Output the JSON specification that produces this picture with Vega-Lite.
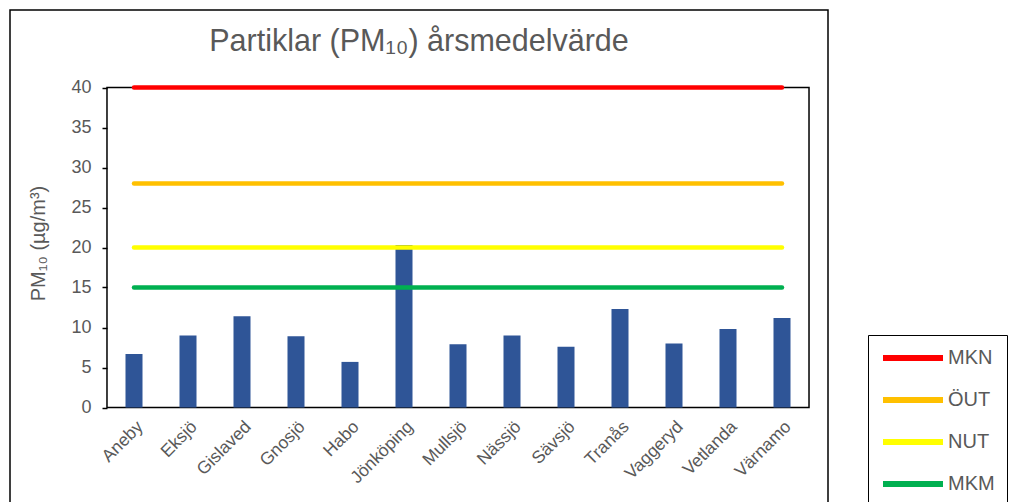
{
  "$schema": "https://vega.github.io/schema/vega-lite/v6.json",
  "width": 818,
  "height": 517.5,
  "autosize": {"type": "none"},
  "padding": {"left": 10, "top": 10, "right": 182, "bottom": 0},
  "background": "white",
  "title": {
    "text": "Partiklar (PM₁₀) årsmedelvärde",
    "font": "Liberation Sans",
    "fontSize": 30.5,
    "fontWeight": "normal",
    "color": "#595959",
    "anchor": "middle",
    "frame": "group",
    "baseline": "middle",
    "offset": -62
  },
  "config": {
    "view": {"stroke": "black", "strokeWidth": 1.5},
    "font": "Liberation Sans",
    "legend": {
      "orient": "none",
      "legendX": 858,
      "legendY": 325,
      "strokeColor": "black",
      "fillColor": "white",
      "padding": 12,
      "clipHeight": 22,
      "symbolType": "stroke",
      "symbolStrokeWidth": 6,
      "symbolSize": 3600,
      "labelFontSize": 20,
      "labelFont": "Liberation Sans",
      "labelColor": "#595959",
      "labelOffset": 2,
      "rowPadding": 20
    }
  },
  "datasets": {
    "pm": [
      {"ort": "Aneby", "pm10": 6.7},
      {"ort": "Eksjö", "pm10": 9.0},
      {"ort": "Gislaved", "pm10": 11.4},
      {"ort": "Gnosjö", "pm10": 8.9},
      {"ort": "Habo", "pm10": 5.7},
      {"ort": "Jönköping", "pm10": 20.3},
      {"ort": "Mullsjö", "pm10": 7.9},
      {"ort": "Nässjö", "pm10": 9.0},
      {"ort": "Sävsjö", "pm10": 7.6},
      {"ort": "Tranås", "pm10": 12.3},
      {"ort": "Vaggeryd", "pm10": 8.0},
      {"ort": "Vetlanda", "pm10": 9.8},
      {"ort": "Värnamo", "pm10": 11.2}
    ],
    "limits": [
      {"gräns": "MKN", "värde": 40, "start": "Aneby", "slut": "Värnamo"},
      {"gräns": "ÖUT", "värde": 28, "start": "Aneby", "slut": "Värnamo"},
      {"gräns": "NUT", "värde": 20, "start": "Aneby", "slut": "Värnamo"},
      {"gräns": "MKM", "värde": 15, "start": "Aneby", "slut": "Värnamo"}
    ],
    "frame": [
      {"start": "Aneby", "slut": "Värnamo", "lo": 0, "hi": 40}
    ]
  },
  "layer": [
    {
      "data": {"name": "frame"},
      "mark": {"type": "rect", "fillOpacity": 0, "stroke": "black", "strokeWidth": 1.5},
      "encoding": {
        "x": {
          "field": "start", "type": "nominal", "bandPosition": -1.088,
          "scale": {"domain": ["Aneby","Eksjö","Gislaved","Gnosjö","Habo","Jönköping","Mullsjö","Nässjö","Sävsjö","Tranås","Vaggeryd","Vetlanda","Värnamo"], "range": [97, 799], "paddingInner": 0.685, "paddingOuter": 0.3425},
          "axis": {"orient": "bottom", "offset": -120, "domain": false, "ticks": false, "labelAngle": -45, "labelFontSize": 17.5, "labelColor": "#595959", "labelPadding": 10, "title": null}
        },
        "x2": {"field": "slut", "bandPosition": 2.088},
        "y": {
          "field": "lo", "type": "quantitative",
          "scale": {"domain": [-15, 49.6875], "nice": false, "zero": false},
          "axis": {"orient": "left", "offset": -97, "values": [0,5,10,15,20,25,30,35,40], "domain": false, "grid": false, "tickColor": "black", "tickSize": 5, "tickWidth": 1.5, "labelFontSize": 18, "labelColor": "#595959", "labelPadding": 11, "title": "PM₁₀ (µg/m³)", "titleFontSize": 20, "titleFontWeight": "normal", "titleColor": "#595959", "titlePadding": 22, "titleY": 233}
        },
        "y2": {"field": "hi"}
      }
    },
    {
      "data": {"name": "pm"},
      "mark": {"type": "bar", "color": "#2F5597"},
      "encoding": {
        "x": {"field": "ort", "type": "nominal"},
        "y": {"field": "pm10", "type": "quantitative"},
        "y2": {"datum": 0}
      }
    },
    {
      "data": {"name": "limits"},
      "mark": {"type": "rule", "strokeWidth": 4.5, "strokeCap": "round"},
      "encoding": {
        "x": {"field": "start", "type": "nominal"},
        "x2": {"field": "slut"},
        "y": {"field": "värde", "type": "quantitative"},
        "color": {
          "field": "gräns", "type": "nominal",
          "scale": {"domain": ["MKN", "ÖUT", "NUT", "MKM"], "range": ["#FF0000", "#FFC000", "#FFFF00", "#00B050"]},
          "legend": {"title": null}
        }
      }
    }
  ]
}
